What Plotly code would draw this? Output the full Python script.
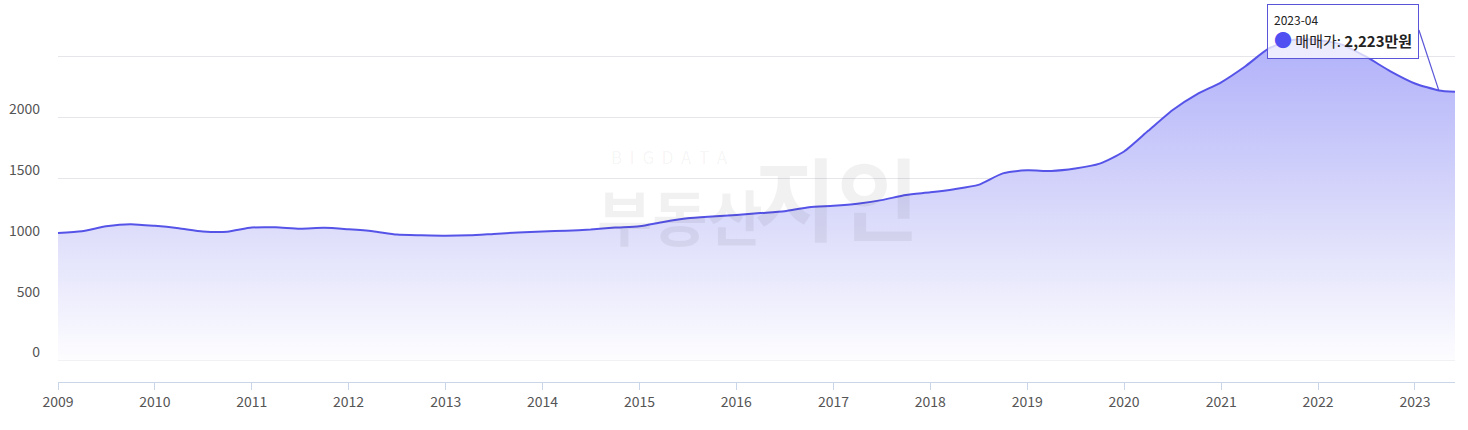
import plotly.graph_objects as go

# monthly sale price (만원)
dates = [
    "2009-01", "2009-04", "2009-07", "2009-10",
    "2010-01", "2010-04", "2010-07", "2010-10",
    "2011-01", "2011-04", "2011-07", "2011-10",
    "2012-01", "2012-04", "2012-07", "2012-10",
    "2013-01", "2013-04", "2013-07", "2013-10",
    "2014-01", "2014-04", "2014-07", "2014-10",
    "2015-01", "2015-04", "2015-07", "2015-10",
    "2016-01", "2016-04", "2016-07", "2016-10",
    "2017-01", "2017-04", "2017-07", "2017-10",
    "2018-01", "2018-04", "2018-07", "2018-10",
    "2019-01", "2019-04", "2019-07", "2019-10",
    "2020-01", "2020-04", "2020-07", "2020-10",
    "2021-01", "2021-04", "2021-07", "2021-10",
    "2022-01", "2022-04", "2022-07", "2022-10",
    "2023-01", "2023-04", "2023-06",
]
prices = [
    1050, 1064, 1104, 1122,
    1108, 1088, 1062, 1060,
    1094, 1096, 1084, 1092,
    1080, 1064, 1036, 1030,
    1026, 1030, 1042, 1054,
    1062, 1068, 1078, 1094,
    1105, 1140, 1170, 1185,
    1198, 1213, 1228, 1262,
    1273, 1290, 1320, 1362,
    1384, 1410, 1445, 1540,
    1565, 1560, 1580, 1620,
    1720, 1890, 2060, 2190,
    2290, 2420, 2570, 2640,
    2638, 2600, 2500, 2380,
    2280, 2223, 2212,
]
ytick_vals = [0, 500, 1000, 1500, 2000, 2500]
ytick_text = ["0", "500", "1000", "1500", "2000", ""]
xtick_vals = [f"{y}-01-01" for y in range(2009, 2024)]
xtick_text = [str(y) for y in range(2009, 2024)]

series_name = "매매가"
tip_date = "2023-04"
tip_value = 2223

FONT = "Noto Sans CJK KR"
TIP_COLOR = "#5a55d8"
WM = "rgba(0,0,0,0.055)"

fig = go.Figure()
fig.add_trace(go.Scatter(
    x=dates, y=prices, name=series_name, mode="lines",
    line=dict(color="rgb(86,84,232)", width=2, shape="spline", smoothing=0.6),
    fill="tozeroy",
    fillgradient=dict(type="vertical", start=0, stop=2640,
                      colorscale=[[0, "rgba(253,253,255,1)"], [0.4, "rgba(222,222,251,1)"],
                                  [1, "rgba(176,176,250,1)"]]),
    hoverinfo="skip",
))

fig.update_layout(
    width=1468, height=430,
    margin=dict(l=58, r=13, t=0, b=48),
    paper_bgcolor="white", plot_bgcolor="white",
    showlegend=False,
    font=dict(family=FONT, size=14, color="#555"),
    xaxis=dict(
        range=["2009-01-01", "2023-06-01"],
        tickvals=xtick_vals, ticktext=xtick_text,
        showgrid=False, showline=True, linecolor="#c9d5e8", linewidth=1,
        ticks="outside", ticklen=7, tickcolor="#c9d5e8",
        tickfont=dict(size=14, color="#555"), zeroline=False,
    ),
    yaxis=dict(
        range=[-177, 2967],
        tickvals=ytick_vals, ticktext=ytick_text,
        showgrid=True, gridcolor="#e6e6ea", gridwidth=1,
        zeroline=False, showline=False, ticks="",
        ticklabelstandoff=17, ticklabelshift=-8,
        tickfont=dict(size=14, color="#555"),
    ),
    shapes=[
        # tooltip pointer
        dict(type="line", xref="x", yref="y", x0="2023-01-16", y0=2720,
             x1=f"{tip_date}-01", y1=tip_value, line=dict(color=TIP_COLOR, width=1.2)),
    ],
    annotations=[
        # watermark
        dict(x=0.4375, y=0.59, xref="paper", yref="paper", xanchor="center", yanchor="middle",
             text="B  I  G  D  A  T  A", showarrow=False,
             font=dict(family=FONT, size=17, color=WM)),
        dict(x=0.3845, y=0.32, xref="paper", yref="paper", xanchor="left", yanchor="bottom",
             text="<b>부동산</b>", showarrow=False,
             font=dict(family=FONT, size=60, color=WM)),
        dict(x=0.497, y=0.315, xref="paper", yref="paper", xanchor="left", yanchor="bottom",
             text="<b>지인</b>", showarrow=False,
             font=dict(family=FONT, size=90, color=WM)),
        # tooltip
        dict(
            x="2023-01-16", y=2934, xref="x", yref="y", xanchor="right", yanchor="top",
            text=(f"<span style='font-size:12px'>{tip_date}</span><br>"
                  f"<span style='color:#5050f2;font-size:18px'>●</span>"
                  f"<span style='font-size:15px'> {series_name}: <b>{tip_value:,}만원</b></span>"),
            align="left", font=dict(family=FONT, size=17, color="#222"),
            showarrow=False,
            bgcolor="rgba(255,255,255,0.75)", bordercolor=TIP_COLOR, borderwidth=1, borderpad=6,
        ),
    ],
)

fig.write_html("out.html", post_script="document.body.style.margin='0px';",
               config={"displayModeBar": False})
